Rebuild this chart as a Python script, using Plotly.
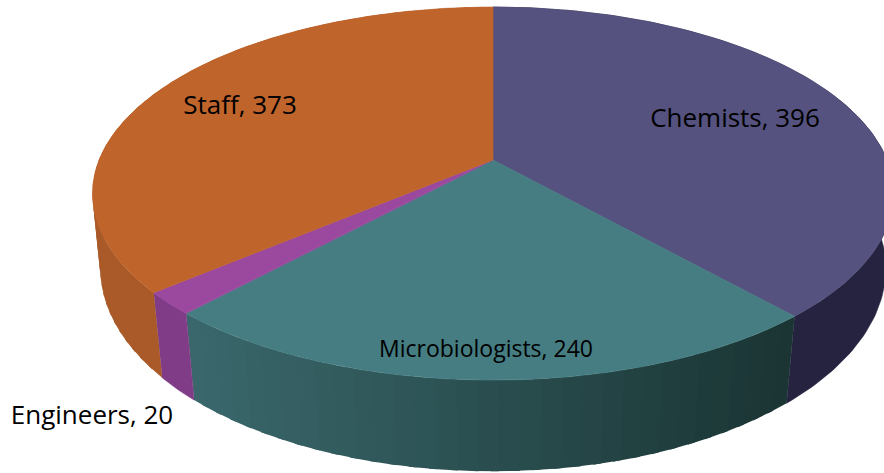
import math
import plotly.graph_objects as go

categories = ["Chemists", "Microbiologists", "Engineers", "Staff"]
values = [396, 240, 20, 373]

top_colors = ["#55527f", "#457d82", "#9b489f", "#bf642b"]
wall_left = ["#25233f", "#3a686c", "#803c87", "#a95a28"]
wall_right = ["#25233f", "#1a3433", "#803c87", "#b5602a"]
label_x = [735, 486, 92, 240]
label_y = [120, 351, 417, 107]
label_size = [26, 23, 26, 26]

CX = 493
TOP = dict(cy=160, a=394, b=180.5, k=0.18)
BOT = dict(cy=234, a=387, b=197, k=0.17)


def project(theta_deg, p):
    t = math.radians(theta_deg)
    X, Y = math.sin(t), math.cos(t)
    w = 1 + p["k"] * Y
    return CX + p["a"] * X / w, p["cy"] - p["b"] * Y / w


def arc(a0, a1, p, step=1.0):
    n = max(2, int(abs(a1 - a0) / step) + 1)
    return [project(a0 + (a1 - a0) * i / (n - 1), p) for i in range(n)]


def poly(fig, pts, color, width=0.6):
    fig.add_trace(go.Scatter(
        x=[q[0] for q in pts] + [pts[0][0]],
        y=[q[1] for q in pts] + [pts[0][1]],
        mode="lines", fill="toself", fillcolor=color,
        line=dict(color=color, width=width),
        hoverinfo="skip", showlegend=False))


def mix(c0, c1, f):
    a = [int(c0[i:i + 2], 16) for i in (1, 3, 5)]
    b = [int(c1[i:i + 2], 16) for i in (1, 3, 5)]
    return "#%02x%02x%02x" % tuple(round(u + (v - u) * f) for u, v in zip(a, b))


total = sum(values)
edges = [0.0]
for v in values:
    edges.append(edges[-1] + v / total * 360)

fig = go.Figure()

# side walls
for i in range(len(values)):
    a0, a1 = edges[i], edges[i + 1]
    if wall_left[i] == wall_right[i]:
        poly(fig, arc(a0, a1, TOP) + arc(a1, a0, BOT), wall_left[i])
    else:
        x0 = project(a1, TOP)[0]
        x1 = project(a0, TOP)[0]
        n = max(1, int((a1 - a0) / 2.5))
        for j in range(n):
            s0 = a0 + (a1 - a0) * j / n
            s1 = min(a1, a0 + (a1 - a0) * (j + 1) / n + 1.0)
            xm = project(a0 + (a1 - a0) * (j + 0.5) / n, TOP)[0]
            f = min(1, max(0, (xm - min(x0, x1)) / abs(x1 - x0)))
            poly(fig, arc(s0, s1, TOP, 0.5) + arc(s1, s0, BOT, 0.5),
                 mix(wall_left[i], wall_right[i], f), width=0)

# top faces
apex = (CX, TOP["cy"])
for i in range(len(values)):
    poly(fig, [apex] + arc(edges[i], edges[i + 1], TOP, 0.5), top_colors[i])

fig.add_trace(go.Scatter(
    x=label_x, y=label_y, mode="text",
    text=[f"{c}, {v}" for c, v in zip(categories, values)],
    textposition="middle center",
    textfont=dict(family="Open Sans", size=label_size, color="#000000"),
    hoverinfo="skip", showlegend=False))

fig.update_layout(
    width=884, height=473, autosize=False,
    margin=dict(l=0, r=0, t=0, b=0),
    paper_bgcolor="white", plot_bgcolor="white", showlegend=False,
    xaxis=dict(range=[0, 884], visible=False, fixedrange=True),
    yaxis=dict(range=[473, 0], visible=False, fixedrange=True),
)
fig.write_html("out.html", config={"displayModeBar": False},
               post_script="document.body.style.margin='0';"
                           "document.documentElement.style.overflow='hidden';")
